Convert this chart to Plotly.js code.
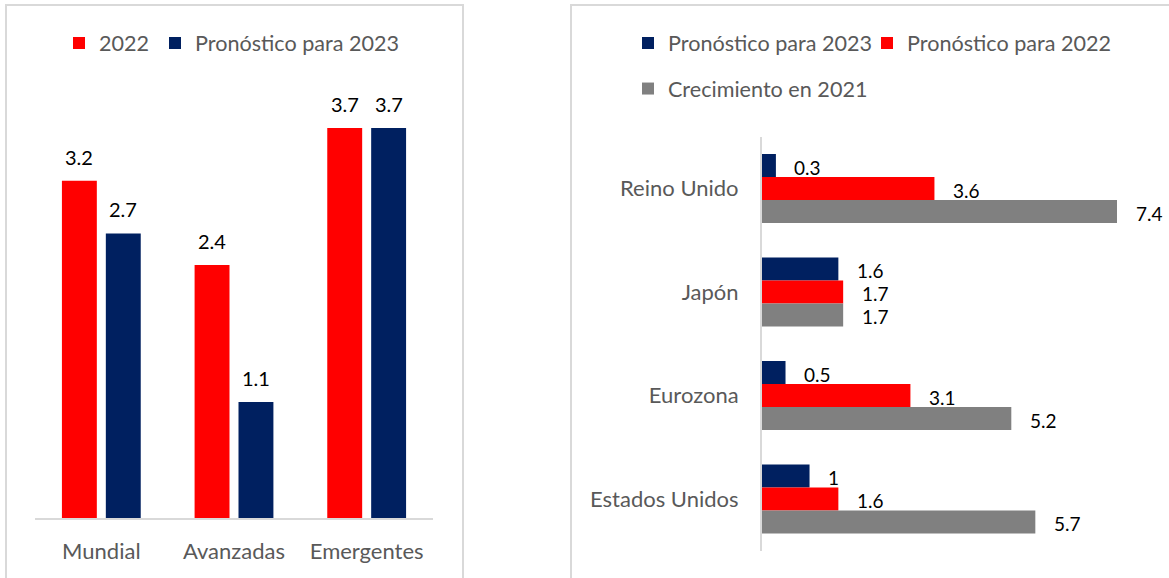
<!DOCTYPE html>
<html><head><meta charset="utf-8">
<script src="https://cdn.plot.ly/plotly-3.0.1.min.js"></script>
<style>
html,body{margin:0;padding:0;background:#fff;width:1169px;height:578px;overflow:hidden;position:relative}
.box{position:absolute;border:2px solid #d9d9d9;box-sizing:border-box}
#plotA{position:absolute;left:0;top:0;width:520px;height:578px}
#plotB{position:absolute;left:520px;top:0;width:649px;height:578px}
</style></head><body>
<div class="box" style="left:5px;top:4px;width:459px;height:620px"></div>
<div class="box" style="left:570px;top:4px;width:640px;height:620px"></div>
<div id="plotA"></div><div id="plotB"></div>
<script>
// ---- Left chart data ----
const regiones = ['Mundial', 'Avanzadas', 'Emergentes'];
const crec2022 = [3.2, 2.4, 3.7];
const pron2023 = [2.7, 1.1, 3.7];
const nombresIzq = ['2022', 'Pronóstico para 2023'];

// ---- Right chart data ----
const paises = ['Reino Unido', 'Japón', 'Eurozona', 'Estados Unidos'];
const pronostico2023 = [0.3, 1.6, 0.5, 1];
const pronostico2022 = [3.6, 1.7, 3.1, 1.6];
const crecimiento2021 = [7.4, 1.7, 5.2, 5.7];
const nombresDer = ['Pronóstico para 2023', 'Pronóstico para 2022', 'Crecimiento en 2021'];

const ROJO = '#ff0000', AZUL = '#002060', GRIS = '#808080';
const FONT = 'Lato, "Open Sans", sans-serif';
const FS = 22;
const FL = 21.6;

// ---------- LEFT ----------
const WA = 520, H = 578;
const tracesA = [
  {type:'bar', x:regiones, y:crec2022, name:nombresIzq[0], marker:{color:ROJO}, legendwidth:51},
  {type:'bar', x:regiones, y:pron2023, name:nombresIzq[1], marker:{color:AZUL}}
];
const annA = [];
regiones.forEach((r, i) => {
  annA.push({x:r, y:crec2022[i], xref:'x', yref:'y', text:String(crec2022[i]), showarrow:false,
    xshift:-22, yshift:24, yanchor:'middle', font:{family:FONT, size:20, color:'#000'}});
  annA.push({x:r, y:pron2023[i], xref:'x', yref:'y', text:String(pron2023[i]), showarrow:false,
    xshift:22, yshift:24, yanchor:'middle', font:{family:FONT, size:20, color:'#000'}});
});
const layoutA = {
  width:WA, height:H, margin:{l:0, r:0, t:0, b:0},
  paper_bgcolor:'rgba(0,0,0,0)', plot_bgcolor:'rgba(0,0,0,0)',
  barmode:'group', bargap:0.338, bargroupgap:0.205,
  font:{family:FONT, size:FS, color:'#595959'},
  xaxis:{domain:[35/WA, 433/WA], type:'category', showline:true, linecolor:'#d9d9d9', linewidth:1.5,
    ticks:'', showgrid:false, zeroline:false, ticklabelstandoff:13,
    tickfont:{family:FONT, size:FS, color:'#595959'}},
  yaxis:{domain:[60/H, (H-75.3)/H], range:[0, 4.2], visible:false, showgrid:false, zeroline:false},
  showlegend:true,
  legend:{orientation:'h', x:59/WA, xanchor:'left', y:(H-43.5)/H, yanchor:'middle',
    font:{family:FONT, size:FL, color:'#595959'}, bgcolor:'rgba(0,0,0,0)', borderwidth:0},
  annotations:annA
};

// ---------- RIGHT ----------
const WB = 649;
const axL = 761.5 - 520, axR = axL + 8 * 48.04;
const tracesB = [
  {type:'bar', orientation:'h', y:paises, x:pronostico2023, name:nombresDer[0], marker:{color:AZUL}, legend:'legend', legendwidth:194},
  {type:'bar', orientation:'h', y:paises, x:pronostico2022, name:nombresDer[1], marker:{color:ROJO}, legend:'legend'},
  {type:'bar', orientation:'h', y:paises, x:crecimiento2021, name:nombresDer[2], marker:{color:GRIS}, legend:'legend2'}
];
const annB = [];
const seriesB = [pronostico2023, pronostico2022, crecimiento2021];
const shiftsB = [21.5, -1.5, -24.5];
paises.forEach((p, i) => {
  seriesB.forEach((s, k) => {
    annB.push({x:s[i], y:p, xref:'x', yref:'y', text:String(s[i]), showarrow:false,
      xanchor:'left', xshift:16.5, yshift:shiftsB[k], yanchor:'middle',
      font:{family:FONT, size:19, color:'#000'}});
  });
});
const layoutB = {
  width:WB, height:H, margin:{l:0, r:0, t:0, b:0},
  paper_bgcolor:'rgba(0,0,0,0)', plot_bgcolor:'rgba(0,0,0,0)',
  barmode:'group', bargap:0.333, bargroupgap:0,
  font:{family:FONT, size:FS, color:'#595959'},
  xaxis:{domain:[axL/WB, axR/WB], range:[0, 8], visible:false, showgrid:false, zeroline:false},
  yaxis:{domain:[(H-550.75)/H, (H-136.75)/H], type:'category', autorange:'reversed',
    showline:true, linecolor:'#d9d9d9', linewidth:1.5, ticks:'', showgrid:false, zeroline:false,
    ticklabelstandoff:17, tickfont:{family:FONT, size:FS, color:'#595959'}},
  showlegend:true,
  legend:{orientation:'h', x:108/WB, xanchor:'left', y:(H-43.5)/H, yanchor:'middle',
    font:{family:FONT, size:FL, color:'#595959'}, bgcolor:'rgba(0,0,0,0)', borderwidth:0},
  legend2:{orientation:'h', x:108/WB, xanchor:'left', y:(H-89)/H, yanchor:'middle',
    font:{family:FONT, size:FL, color:'#595959'}, bgcolor:'rgba(0,0,0,0)', borderwidth:0},
  annotations:annB
};

const cfg = {displayModeBar:false, staticPlot:true};
Plotly.newPlot('plotA', tracesA, layoutA, cfg);
Plotly.newPlot('plotB', tracesB, layoutB, cfg);
</script>
</body></html>
